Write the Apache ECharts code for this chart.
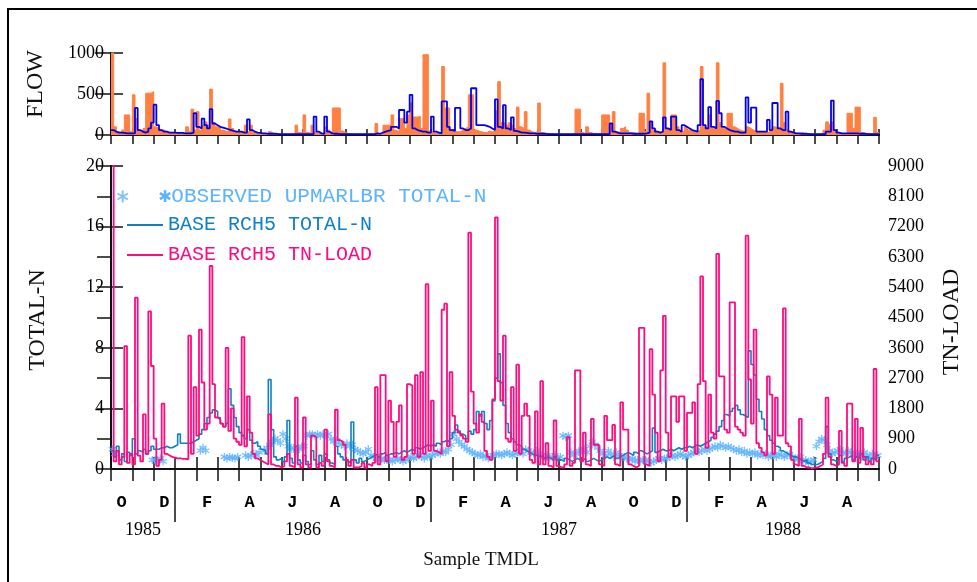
<!DOCTYPE html>
<html>
<head>
<meta charset="utf-8">
<script src="https://cdn.jsdelivr.net/npm/echarts@6/dist/echarts.min.js"></script>
<style>html,body{margin:0;background:#fff}#chart{width:977px;height:582px}</style>
</head>
<body>
<div id="chart"></div>
<script>
// 8 values per month, Oct 1985 .. Sep 1988 (36 months)
var SLOTS = 8;
var monthLetters = ['O','N','D','J','F','M','A','M','J','J','A','S'];
var monthLabelAt = [0.5,2.5,4.5,6.5,8.5,10.5,12.5,14.5,16.5,18.5,20.5,22.5,24.5,26.5,28.5,30.5,32.5,34.5];
var yearLabels = ['1985','1986','1987','1988'];
var yearLabelAt = [1.5, 9, 21, 31.5];
var yearBreaks = [3, 15, 27];

var flowOrange = [
  1200,100,40,30,60,245,245,40,  490,200,50,40,80,510,510,530,  100,80,60,60,40,30,30,25,
  25,25,20,20,100,40,315,60,  285,60,120,160,120,560,150,100,  90,60,50,40,195,80,40,30,
  30,25,120,40,120,30,20,20,  20,20,15,40,20,15,10,10,  10,10,10,15,10,120,30,20,
  245,30,20,120,30,20,15,20,  100,60,30,330,330,330,50,30,  20,15,10,10,10,10,10,10,
  10,10,10,140,20,15,120,120,  120,245,60,40,200,200,80,245,  390,220,220,225,80,980,980,50,
  30,20,20,30,835,330,330,60,  50,40,40,60,80,100,490,490,  60,50,40,30,30,50,40,40,
  300,650,150,150,120,150,120,80,  340,100,80,285,60,40,30,40,  390,30,20,20,15,15,10,10,
  10,10,10,10,10,20,315,315,  30,20,100,30,20,20,15,15,  245,245,245,120,285,40,30,80,
  100,60,30,30,20,20,265,265,  40,510,150,60,40,30,30,880,  80,60,245,245,100,50,40,100,
  60,50,40,40,60,835,100,80,  245,80,60,880,150,80,60,265,  265,100,80,60,50,40,100,80,
  60,50,40,40,30,30,30,60,  100,90,80,630,150,60,40,30,  20,20,30,20,15,15,10,10,
  10,10,20,60,160,130,160,40,  20,15,15,20,265,265,80,340,  340,30,20,15,15,20,215,30
];
var flowBlue = [
  60,40,30,30,25,20,20,20,  20,330,60,40,30,40,80,150,  370,120,60,40,40,30,30,30,
  25,25,25,20,20,20,30,265,  100,80,200,120,80,315,140,120,  100,90,80,70,60,50,40,40,
  40,30,30,190,60,40,30,25,  20,20,15,15,15,15,10,10,  10,10,10,10,10,10,10,10,
  10,10,10,10,225,40,20,15,  225,40,20,15,15,10,10,10,  10,10,10,10,10,10,10,10,
  10,10,10,20,15,30,40,50,  60,100,100,80,305,305,150,285,  490,80,60,50,40,40,30,30,
  225,40,30,20,410,410,100,60,  50,330,330,80,60,60,80,570,  570,120,120,120,110,100,80,60,
  435,100,80,365,80,60,215,50,  40,30,30,25,20,20,20,15,  15,15,15,10,10,10,10,10,
  10,10,10,10,10,10,10,10,  10,10,10,10,10,10,10,10,  10,10,10,140,40,30,20,20,
  20,20,20,15,15,15,15,15,  20,30,165,80,40,30,40,215,  80,60,225,225,60,40,120,100,
  80,60,50,40,120,680,120,80,  340,100,80,415,265,100,80,60,  50,40,40,30,30,30,460,150,
  335,335,40,40,40,40,185,60,  390,390,80,60,60,285,40,30,  20,20,15,15,15,10,10,10,
  10,10,10,10,40,40,420,60,  30,20,20,20,20,20,20,20,  15,15,15,10,10,10,10,10
];
var tnLoad = [
  9600,225,540,135,360,3650,180,450,  135,5090,400,225,1620,450,4680,3060,  900,90,270,1940,450,400,360,340,
  315,315,300,300,290,3960,450,2430,  990,4140,2570,1170,1350,6030,2520,1530,  1480,1350,1260,3600,1130,1800,900,810,
  720,3920,675,2160,1080,450,315,270,  225,180,135,1620,135,90,90,45,  90,225,450,90,45,2120,135,45,
  1530,135,45,990,945,45,180,90,  1170,225,90,45,1760,855,810,720,  270,90,270,45,45,90,180,45,
  135,90,180,2430,135,2790,2790,225,  2030,1400,360,1400,1890,270,360,2520,  2480,450,2790,360,2880,450,5490,540,
  2030,540,495,450,4730,4910,675,2880,  1580,1170,1080,990,900,810,7020,2300,  1350,1080,1620,1400,540,360,270,2070,
  7470,2610,2030,3960,900,810,2430,540,  3100,450,1580,1940,1580,270,180,1710,  135,2610,135,765,90,45,1440,90,
  45,45,135,945,90,180,2930,2930,  225,1080,135,90,1490,720,720,135,  90,1580,855,855,1310,135,90,1980,
  1170,1170,135,90,45,90,4190,4190,  135,90,3560,2210,1080,225,2930,4550,  1080,360,2160,2160,1400,2160,2160,540,
  1670,1670,1980,450,2520,5720,2610,630,  2210,1080,900,6390,2750,2750,1170,1080,  4950,4950,1260,1170,1080,990,6930,2660,
  1350,4140,765,630,495,405,2750,2210,  450,2120,990,990,4770,765,675,270,  135,90,1490,90,45,45,20,45,
  45,90,135,450,2120,360,135,90,  135,1130,180,90,1940,1940,225,1490,  180,1220,360,135,225,135,2970,225
];
var totalN = [
  1.2,0.8,1.5,0.6,1.0,0.5,1.1,0.9,  2.0,1.0,1.2,1.1,1.3,1.0,1.2,1.5,  1.3,1.3,1.4,1.4,1.5,1.4,1.4,1.5,
  1.6,2.3,1.7,1.7,1.7,1.7,1.8,1.9,  2.0,2.3,2.6,3.0,3.4,3.7,3.9,3.8,  3.4,3.0,2.8,3.0,5.3,4.2,3.4,2.8,
  2.4,2.2,2.0,2.6,1.9,1.7,1.8,1.5,  1.3,1.2,1.0,5.9,2.6,0.8,0.6,0.7,  0.5,0.8,3.2,0.7,0.4,1.5,0.6,0.4,
  0.9,0.5,0.3,1.2,0.6,0.3,0.9,0.5,  1.0,0.6,0.4,0.3,1.5,1.0,0.8,0.6,  0.5,0.4,3.1,0.6,0.4,0.7,0.5,0.6,
  0.7,0.8,0.9,1.0,0.8,1.0,1.1,0.9,  1.0,1.0,1.1,1.0,1.1,1.2,1.1,1.2,  1.3,1.2,1.4,1.3,1.4,1.5,1.6,1.5,
  1.6,1.5,1.7,1.6,1.8,1.9,1.8,2.0,  2.4,2.9,2.5,2.3,2.2,2.0,2.5,2.3,  2.6,3.8,3.5,3.8,3.0,2.6,3.2,4.5,
  6.0,7.6,5.7,4.2,3.0,2.4,2.0,1.8,  1.6,1.5,1.3,1.2,1.1,1.0,0.9,0.9,  0.8,0.9,0.7,0.8,0.7,0.6,0.8,0.6,
  0.6,0.5,0.7,0.6,0.5,0.6,0.7,0.6,  0.6,0.7,0.5,0.6,0.7,0.6,0.5,0.6,  0.7,0.8,0.7,0.8,0.9,0.7,0.8,0.9,
  1.0,1.1,1.0,0.9,1.1,1.0,1.2,1.1,  1.0,1.1,1.2,2.7,1.1,1.2,1.3,1.2,  1.2,1.3,1.2,1.3,1.4,1.3,1.4,1.4,
  1.5,1.4,1.5,1.6,1.5,1.6,1.7,1.8,  1.9,2.1,2.3,2.5,2.8,3.2,3.6,3.5,  3.8,4.0,4.2,3.9,3.6,3.5,3.4,7.8,
  6.9,6.2,4.6,3.8,3.3,2.6,2.2,1.9,  1.7,1.5,1.4,1.2,1.1,1.0,0.9,0.8,  0.8,0.7,0.6,0.5,0.6,0.4,0.3,0.3,
  0.3,0.4,0.5,0.7,2.8,1.0,0.6,0.5,  0.6,0.9,0.5,0.7,0.8,0.9,0.6,0.8,  0.7,1.0,0.6,0.8,0.5,0.7,0.6,0.9
];
var observedTN = [
  1.3,1.0,null,null,null,null,null,null,  null,null,null,null,null,null,null,0.6,  0.6,0.55,0.7,0.5,null,null,null,null,
  null,null,null,null,null,null,null,null,  null,1.2,1.4,1.2,null,null,null,null,  null,null,0.8,0.7,0.8,0.75,0.7,0.8,
  null,null,0.9,0.8,0.9,1.0,0.9,1.1,  null,1.2,1.4,1.6,1.8,2.0,1.9,1.7,  2.3,2.0,1.5,1.3,1.4,1.2,1.3,1.5,
  1.5,2.2,2.3,2.3,2.2,2.3,2.2,2.3,  2.2,2.3,2.0,1.8,1.9,1.7,1.6,1.5,  1.7,1.5,1.6,1.3,1.2,1.1,1.0,1.1,
  1.3,0.9,0.8,0.7,0.6,0.7,0.6,0.6,  0.6,0.5,0.6,0.7,0.6,0.5,0.6,0.7,  0.8,0.7,0.8,0.9,0.8,0.7,0.9,0.8,
  0.9,1.0,1.1,1.0,1.2,1.1,1.3,1.6,  2.3,2.0,1.8,1.6,1.5,1.3,1.2,1.1,  1.0,0.9,1.0,0.8,0.9,0.7,0.8,0.9,
  1.0,1.0,0.9,1.0,1.1,1.0,0.9,1.0,  1.1,1.2,1.0,1.3,1.2,1.1,1.0,1.2,  1.0,0.9,0.8,0.9,0.7,0.8,0.9,0.7,
  0.8,2.2,2.1,2.2,1.1,0.9,1.0,1.2,  1.2,1.3,1.1,1.5,1.8,1.6,1.4,1.2,  1.0,0.9,1.2,1.0,0.8,1.1,0.9,0.8,
  0.8,0.7,0.6,0.7,0.5,0.6,0.5,0.6,  0.6,0.5,0.4,0.5,0.6,0.7,0.6,0.7,  0.7,0.8,0.9,0.8,0.9,1.0,0.9,0.8,
  0.9,1.0,1.1,1.2,1.1,1.2,1.3,1.2,  1.3,1.4,1.5,1.4,1.6,1.5,1.4,1.5,  1.4,1.3,1.2,1.3,1.1,1.2,1.0,1.1,
  1.0,1.1,0.9,1.0,0.9,1.0,0.8,0.9,  0.9,0.8,1.0,0.9,0.8,0.9,1.0,0.8,  0.7,0.6,0.8,0.5,0.6,0.4,0.5,0.6,
  1.5,1.8,2.0,1.9,1.6,1.2,1.0,1.1,  1.2,1.3,1.1,1.0,1.2,1.1,0.9,1.0,  1.0,0.8,1.1,0.9,0.7,1.0,0.8,0.9
];

var C_ORANGE = '#ff8040', C_FLOWBLUE = '#0000f0';
var C_OBS = '#5cb3ff', C_TN = '#0f80c4', C_LOAD = '#ff0a80';
var SERIF = 'Liberation Serif, Times New Roman, serif';
var MONO = 'Liberation Mono, DejaVu Sans Mono, monospace';
var ASTERISK = 'path://M4.2,0H5.8V10H4.2ZM0.27,6.81L8.93,1.81L9.73,3.19L1.07,8.19ZM1.07,1.81L9.73,6.81L8.93,8.19L0.27,3.19Z';

function stepPoints(arr) {
  var p = arr.map(function (v, i) { return [i / SLOTS, v]; });
  p.push([arr.length / SLOTS, arr[arr.length - 1]]);
  return p;
}
function scatterPoints(arr) {
  var p = [];
  arr.forEach(function (v, i) { if (v != null) p.push([i / SLOTS + 0.5 / SLOTS, v]); });
  return p;
}

var lineDark = {show: true, lineStyle: {color: '#111', width: 2}};
function xAx(grid, pos, tickLen, extra) {
  var a = {
    gridIndex: grid, type: 'value', min: 0, max: 36, interval: 1, position: pos,
    axisLine: lineDark,
    axisTick: {show: true, inside: true, length: tickLen, lineStyle: {color: '#111', width: 1.5}},
    axisLabel: {show: false}, splitLine: {show: false}
  };
  for (var k in extra) a[k] = extra[k];
  return a;
}
function yAx(grid, pos, max, step, tickLen, showLabel) {
  return {
    gridIndex: grid, type: 'value', min: 0, max: max, interval: step, position: pos,
    axisLine: lineDark,
    axisTick: {show: true, inside: true, length: tickLen, lineStyle: {color: '#111', width: 1.5}},
    axisLabel: {show: showLabel, margin: pos === 'left' ? 7 : 9, color: '#000', fontFamily: SERIF, fontSize: 18,
      formatter: function (v) { return String(v); }},
    splitLine: {show: false}
  };
}

var chart = echarts.init(document.getElementById('chart'));
chart.setOption({
  animation: false,
  backgroundColor: '#fff',
  grid: [
    {left: 111, right: 98, top: 53, height: 82},
    {left: 111, right: 98, top: 166, height: 303}
  ],
  xAxis: [
    xAx(0, 'bottom', 6, {}),
    xAx(0, 'top', 9, {}),
    xAx(1, 'bottom', 12, {
      axisLabel: {show: true, customValues: monthLabelAt, margin: 25, color: '#000',
        fontFamily: MONO, fontSize: 17, fontWeight: 'bold',
        formatter: function (v) { return monthLetters[Math.floor(v) % 12]; }}
    }),
    xAx(1, 'top', 12, {}),
    xAx(1, 'bottom', 47, {
      offset: 6,
      axisLine: {show: false},
      axisTick: {show: true, inside: false, length: 47, customValues: yearBreaks, lineStyle: {color: '#111', width: 1.5}},
      axisLabel: {show: true, customValues: yearLabelAt, margin: 46, color: '#000', fontFamily: SERIF, fontSize: 18,
        formatter: function (v) { return yearLabels[yearLabelAt.indexOf(v)]; }}
    })
  ],
  yAxis: [
    yAx(0, 'left', 1000, 500, 12, true),
    yAx(0, 'right', 1000, 500, 16, false),
    yAx(1, 'left', 20, 4, 12, true),
    yAx(1, 'right', 9000, 900, 14, true)
  ],
  legend: [
    {data: ['OBSERVED UPMARLBR TOTAL-N'], left: 117, top: 186, padding: 0, itemWidth: 12, itemHeight: 12,
      selectedMode: false, formatter: function (n) { return '\u2731' + n; },
      textStyle: {color: C_OBS, fontFamily: MONO + ', DejaVu Sans', fontSize: 21, padding: [0, 0, 0, 25]}},
    {data: ['BASE RCH5 TOTAL-N'], left: 127, top: 215, padding: 0, itemWidth: 36, itemHeight: 2, icon: 'rect',
      selectedMode: false, textStyle: {color: C_TN, fontFamily: MONO, fontSize: 20}},
    {data: ['BASE RCH5 TN-LOAD'], left: 127, top: 245, padding: 0, itemWidth: 36, itemHeight: 2, icon: 'rect',
      selectedMode: false, textStyle: {color: C_LOAD, fontFamily: MONO, fontSize: 20}}
  ],
  graphic: [
    {type: 'rect', silent: true, shape: {x: 8, y: 9, width: 1000, height: 600},
      style: {fill: 'none', stroke: '#000', lineWidth: 2}},
    {type: 'text', x: 36, y: 84, rotation: Math.PI / 2,
      style: {text: 'FLOW', font: '24px ' + SERIF, fill: '#111', align: 'center', verticalAlign: 'middle'}},
    {type: 'text', x: 38, y: 320, rotation: Math.PI / 2,
      style: {text: 'TOTAL-N', font: '24px ' + SERIF, fill: '#111', align: 'center', verticalAlign: 'middle'}},
    {type: 'text', x: 952, y: 322, rotation: Math.PI / 2,
      style: {text: 'TN-LOAD', font: '24px ' + SERIF, fill: '#111', align: 'center', verticalAlign: 'middle'}},
    {type: 'text', x: 481, y: 560,
      style: {text: 'Sample TMDL', font: '19px ' + SERIF, fill: '#111', align: 'center', verticalAlign: 'middle'}}
  ],
  series: [
    {name: 'FLOW A', type: 'line', xAxisIndex: 0, yAxisIndex: 0, step: 'end', symbol: 'none',
      lineStyle: {color: C_ORANGE, width: 1}, itemStyle: {color: C_ORANGE},
      areaStyle: {color: C_ORANGE, opacity: 1}, data: stepPoints(flowOrange)},
    {name: 'FLOW B', type: 'line', xAxisIndex: 0, yAxisIndex: 0, step: 'end', symbol: 'none',
      lineStyle: {color: C_FLOWBLUE, width: 1.8}, itemStyle: {color: C_FLOWBLUE}, data: stepPoints(flowBlue)},
    {name: 'OBSERVED UPMARLBR TOTAL-N', type: 'scatter', xAxisIndex: 2, yAxisIndex: 2,
      symbol: ASTERISK, symbolSize: 8, itemStyle: {color: C_OBS}, data: scatterPoints(observedTN)},
    {name: 'BASE RCH5 TOTAL-N', type: 'line', xAxisIndex: 2, yAxisIndex: 2, step: 'end', symbol: 'none',
      lineStyle: {color: C_TN, width: 1.6}, itemStyle: {color: C_TN}, data: stepPoints(totalN)},
    {name: 'BASE RCH5 TN-LOAD', type: 'line', xAxisIndex: 2, yAxisIndex: 3, step: 'end', symbol: 'none',
      lineStyle: {color: C_LOAD, width: 1.8}, itemStyle: {color: C_LOAD}, data: stepPoints(tnLoad)}
  ]
});
</script>
</body>
</html>
